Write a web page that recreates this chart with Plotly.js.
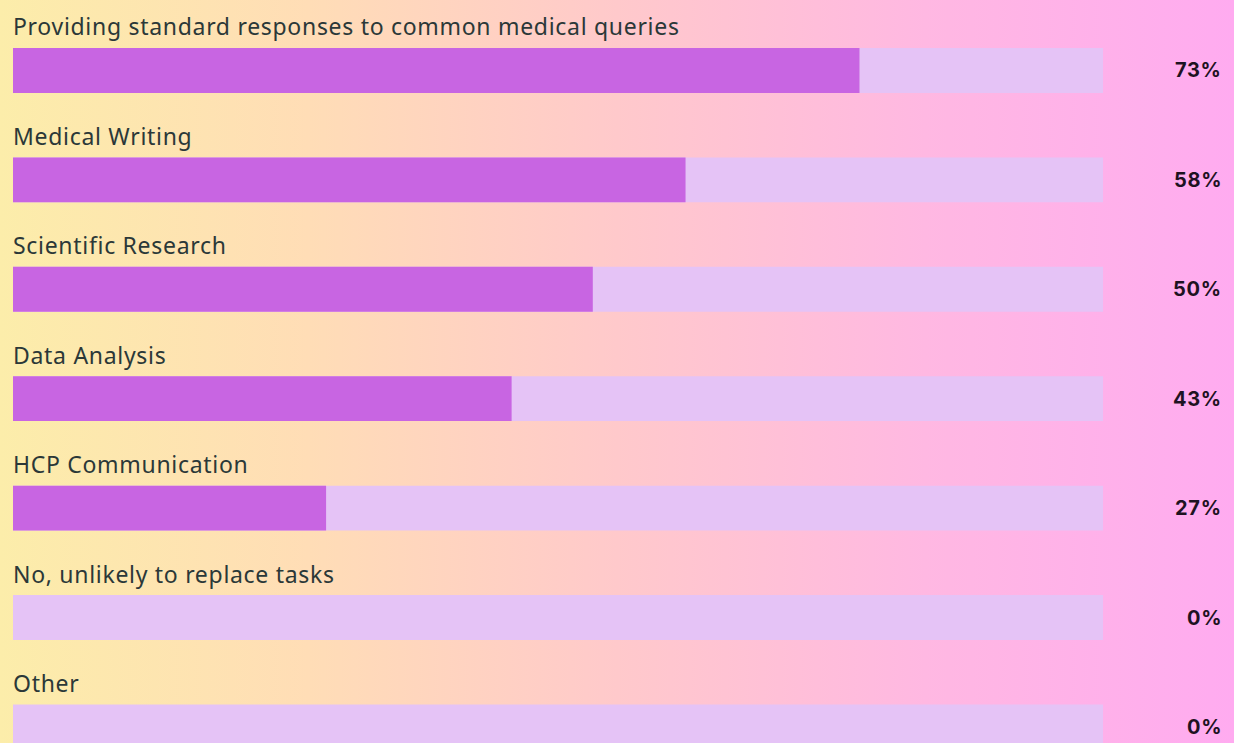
<!DOCTYPE html>
<html>
<head>
<meta charset="utf-8">
<script src="https://cdn.plot.ly/plotly-3.0.1.min.js"></script>
<style>
html,body{margin:0;padding:0;}
#chart{width:1234px;height:743px;background:linear-gradient(90deg,#FCEDAA 0%,#FFDDB6 25%,#FFC9CB 50%,#FFB8E2 75%,#FFABF0 100%);}
text.annotation-text{letter-spacing:0.7px;}
</style>
</head>
<body>
<div id="chart"></div>
<script>
const categories = [
  "Providing standard responses to common medical queries",
  "Medical Writing",
  "Scientific Research",
  "Data Analysis",
  "HCP Communication",
  "No, unlikely to replace tasks",
  "Other"
];
const values = [73, 58, 50, 43, 27, 0, 0];
const valueLabels = ["73%", "58%", "50%", "43%", "27%", "0%", "0%"];
const trackMax = 94;

const yIdx = categories.map((c, i) => i);

const track = {
  type: 'bar', orientation: 'h',
  x: categories.map(() => trackMax), y: yIdx,
  width: 0.41,
  marker: {color: '#E5C3F6', line: {width: 0}},
  hoverinfo: 'skip', showlegend: false
};
const fill = {
  type: 'bar', orientation: 'h',
  x: values, y: yIdx,
  width: 0.41,
  marker: {color: '#C865E2', line: {width: 0}},
  hovertemplate: '%{x}%<extra></extra>', showlegend: false
};

const annotations = [];
categories.forEach((c, i) => {
  annotations.push({
    x: 0, y: i, xref: 'x', yref: 'y', text: c,
    xanchor: 'left', yanchor: 'middle', yshift: 44, xshift: -2,
    showarrow: false,
    font: {family: 'Noto Sans, Open Sans, sans-serif', size: 23, color: '#2B3838'}
  });
  annotations.push({
    x: 1, y: i, xref: 'paper', yref: 'y', text: '<b>' + valueLabels[i] + '</b>',
    xanchor: 'right', yanchor: 'middle', xshift: 121, yshift: 0,
    showarrow: false,
    font: {family: 'Inter, Roboto, sans-serif', size: 20, color: '#1E1222'}
  });
});

const layout = {
  width: 1234, height: 743,
  margin: {l: 13, r: 131, t: 0, b: 0},
  paper_bgcolor: 'rgba(0,0,0,0)', plot_bgcolor: 'rgba(0,0,0,0)',
  barmode: 'overlay',
  xaxis: {range: [0, trackMax], visible: false, fixedrange: true},
  yaxis: {range: [6.147, -0.644], visible: false, fixedrange: true},
  annotations: annotations,
  showlegend: false
};

Plotly.newPlot('chart', [track, fill], layout, {displayModeBar: false, staticPlot: true});
</script>
</body>
</html>
